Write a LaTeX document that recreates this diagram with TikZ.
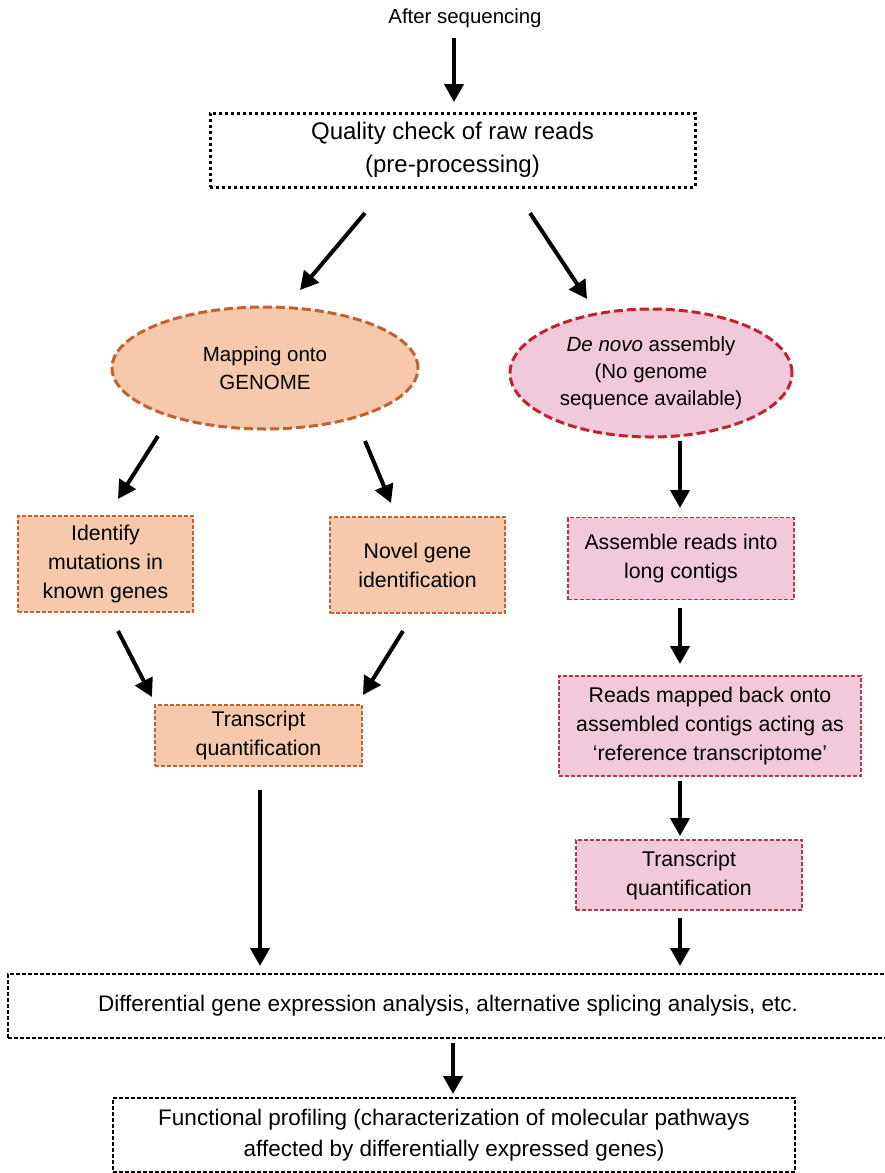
\documentclass[tikz,border=0pt]{standalone}
\usepackage{fontspec}
\setmainfont{Liberation Sans}
\usetikzlibrary{shapes.geometric,arrows.meta}
\definecolor{peach}{HTML}{F6C8AC}
\definecolor{peachline}{HTML}{C0632E}
\definecolor{pinkfill}{HTML}{F2C9DB}
\definecolor{redline}{HTML}{C0222F}
\definecolor{pinkline}{HTML}{B03A4A}
\begin{document}
\begin{tikzpicture}[x=1pt,y=-1pt,
  arr/.style={line width=4pt,-{Triangle[length=18pt,width=19pt]}},
  txt/.style={align=center,inner sep=0pt,font=\fontsize{21.3}{29}\selectfont},
  obox/.style={txt,draw=peachline,fill=peach,line width=1.4pt,dash pattern=on 4pt off 2pt},
  pbox/.style={txt,draw=pinkline,fill=pinkfill,line width=1.4pt,dash pattern=on 4pt off 2pt},
  kbox/.style={txt,draw=black,line width=1.3pt,dash pattern=on 4pt off 2pt,font=\fontsize{22.5}{31}\selectfont},
  oell/.style={txt,ellipse,draw=peachline,fill=peach,line width=3pt,dash pattern=on 9pt off 4pt,font=\fontsize{20.5}{28}\selectfont},
  pell/.style={txt,ellipse,draw=redline,fill=pinkfill,line width=3pt,dash pattern=on 9pt off 4pt,font=\fontsize{20.5}{27}\selectfont}
]
\useasboundingbox (0,0) rectangle (885,1173);
\node[txt,font=\fontsize{20.4}{24}\selectfont] (after) at (465,18) {After sequencing};
\node[txt,draw=black,line width=3pt,dash pattern=on 3pt off 3pt,minimum width=485pt,minimum height=74pt,font=\fontsize{24}{33}\selectfont] (qc) at (452.5,150) {Quality check of raw reads\\(pre-processing)};
\node[oell,minimum width=306pt,minimum height=122pt] (map) at (265,368) {Mapping onto\\GENOME};
\node[pell,minimum width=282pt,minimum height=128pt] (dn) at (651,373) {\textit{De novo} assembly\\(No genome\\sequence available)};
\node[obox,minimum width=175pt,minimum height=96pt] (idm) at (105.5,564) {Identify\\mutations in\\known genes};
\node[obox,minimum width=175pt,minimum height=96pt] (novel) at (417.5,565) {Novel gene\\identification};
\node[obox,minimum width=207pt,minimum height=61pt] (tq1) at (258.5,735.5) {Transcript\\quantification};
\node[pbox,minimum width=226pt,minimum height=82pt] (asm) at (681,558.5) {Assemble reads into\\long contigs};
\node[pbox,minimum width=302pt,minimum height=100pt] (reads) at (710,726) {Reads mapped back onto\\assembled contigs acting as\\‘reference transcriptome’};
\node[pbox,minimum width=226pt,minimum height=70pt] (tq2) at (689,875) {Transcript\\quantification};
\node[kbox,minimum width=880pt,minimum height=64pt] (diff) at (448,1006) {Differential gene expression analysis, alternative splicing analysis, etc.};
\node[kbox,minimum width=682pt,minimum height=74pt] (func) at (454,1135) {Functional profiling (characterization of molecular pathways\\affected by differentially expressed genes)};
% arrow end points
\coordinate (a0s) at (454,38);  \coordinate (a0e) at (454,102);
\coordinate (a1s) at (365,213); \coordinate (a1e) at (300,290);
\coordinate (a2s) at (530,213); \coordinate (a2e) at (587,299);
\coordinate (a3s) at (158,436); \coordinate (a3e) at (118,499);
\coordinate (a4s) at (365,441); \coordinate (a4e) at (391,503);
\coordinate (a5s) at (680,441); \coordinate (a5e) at (680,508);
\coordinate (a6s) at (118,631); \coordinate (a6e) at (152,697);
\coordinate (a7s) at (403,631); \coordinate (a7e) at (363,695);
\coordinate (a8s) at (680,608); \coordinate (a8e) at (680,664);
\coordinate (a9s) at (680,781); \coordinate (a9e) at (680,836);
\coordinate (a10s) at (260,790); \coordinate (a10e) at (260,966);
\coordinate (a11s) at (680,918); \coordinate (a11e) at (680,966);
\coordinate (a12s) at (453,1043); \coordinate (a12e) at (453,1094);
\foreach \i in {0,...,12}{\draw[arr] (a\i s) -- (a\i e);}
\end{tikzpicture}
\end{document}
